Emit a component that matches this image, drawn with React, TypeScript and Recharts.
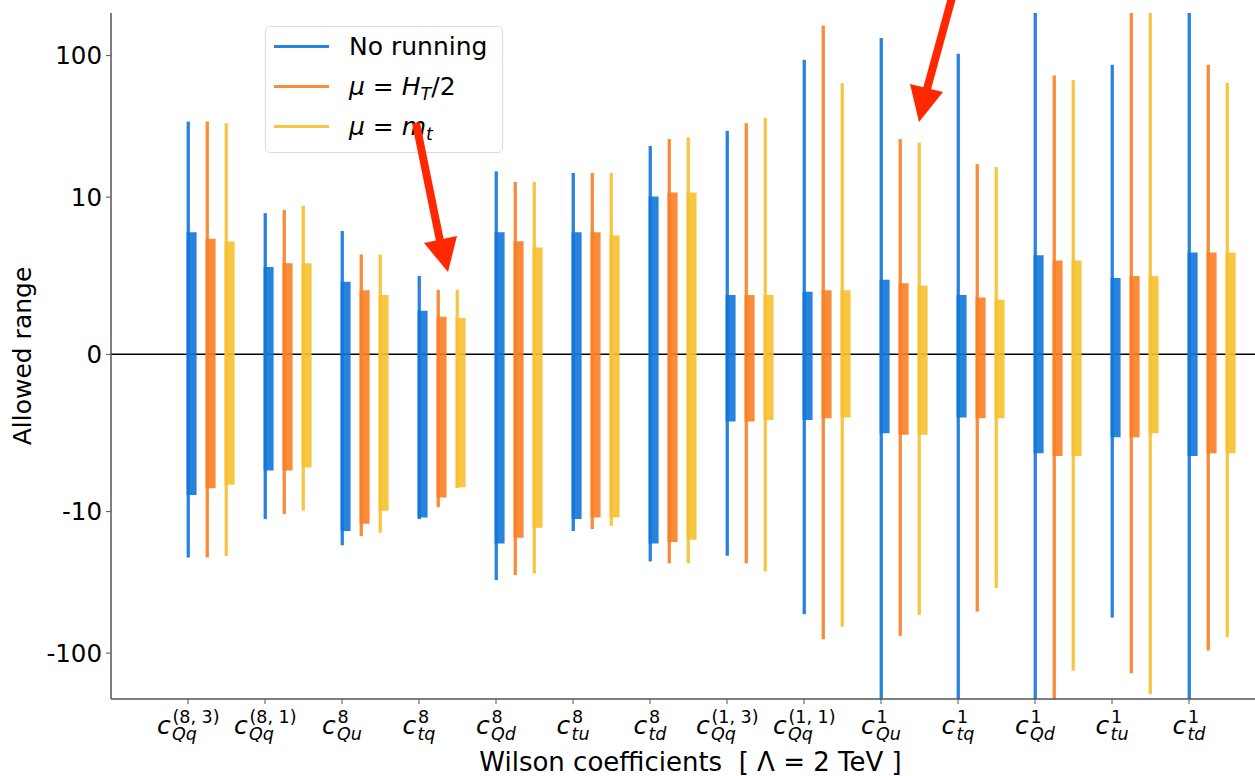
import { ComposedChart, Bar, XAxis, YAxis, CartesianGrid, Legend } from 'recharts';

// tick labels: c_{sub}^{sup}
const coefSub = ['Qq', 'Qq', 'Qu', 'tq', 'Qd', 'tu', 'td', 'Qq', 'Qq', 'Qu', 'tq', 'Qd', 'tu', 'td'];
const coefSup = ['(8, 3)', '(8, 1)', '8', '8', '8', '8', '8', '(1, 3)', '(1, 1)', '1', '1', '1', '1', '1'];

const seriesNames = ['No running', 'μ = H_T/2', 'μ = m_t'];

// [low, high] of the wide (thin line) and narrow (thick bar) allowed ranges
const blueOuter = [
  [-21.1, 34.2], [-11.3, 8.98], [-17.3, 7.84], [-11.3, 4.99], [-30.5, 15.2], [-13.7, 14.8], [-22.5, 23.0],
  [-20.5, 29.4], [-53.1, 93.4], [-260, 133], [-250, 103], [-280, 260], [-56.1, 86.1], [-260, 250],
];
const blueInner = [
  [-8.94, 7.77], [-7.39, 5.55], [-13.7, 4.61], [-11.0, 2.77], [-16.8, 7.77], [-11.3, 7.77], [-16.8, 10.1],
  [-4.27, 3.77], [-4.17, 3.98], [-5.01, 4.74], [-4.02, 3.77], [-6.29, 6.31], [-5.27, 4.85], [-6.46, 6.48],
];
const orangeOuter = [
  [-21.1, 34.2], [-10.4, 9.19], [-14.9, 6.35], [-9.72, 4.1], [-28.1, 12.8], [-13.3, 14.8], [-23.2, 25.7],
  [-23.2, 33.3], [-79.8, 163], [-75.5, 25.7], [-50.9, 17.1], [-250, 72.3], [-139, 250], [-95.9, 86.1],
];
const orangeInner = [
  [-8.51, 7.35], [-7.39, 5.8], [-12.2, 4.08], [-9.11, 2.39], [-15.3, 7.2], [-11.0, 7.77], [-16.4, 10.8],
  [-4.27, 3.77], [-4.06, 4.08], [-5.12, 4.53], [-4.06, 3.61], [-6.46, 5.97], [-5.27, 4.99], [-6.29, 6.48],
];
const yellowOuter = [
  [-20.6, 33.3], [-9.94, 9.45], [-14.1, 6.35], [-8.5, 4.1], [-27.4, 12.8], [-12.6, 14.8], [-23.2, 26.4],
  [-26.5, 36.3], [-65.0, 63.9], [-53.7, 24.3], [-34.8, 16.3], [-133, 67.1], [-195, 250], [-77.2, 64.2],
];
const yellowInner = [
  [-8.3, 7.17], [-7.2, 5.8], [-9.94, 3.77], [-8.45, 2.32], [-13.0, 6.79], [-11.0, 7.56], [-15.8, 10.8],
  [-4.17, 3.77], [-4.02, 4.08], [-5.12, 4.36], [-4.06, 3.47], [-6.46, 5.97], [-5.01, 4.99], [-6.29, 6.48],
];

const yTickValues = [-100, -10, 0, 10, 100];
const yLimits = [-211, 200];

// matplotlib-style symlog, linthresh 10, linscale 1
const LINTHRESH = 10;
const LIN = 1 / 0.9;
const symlog = (v: number) => {
  const a = Math.abs(v);
  const t = a <= LINTHRESH ? (a / LINTHRESH) * LIN : LIN + Math.log10(a / LINTHRESH);
  return Math.sign(v) * t;
};
const unSymlog = (t: number) => {
  const a = Math.abs(t);
  const v = a <= LIN ? (a / LIN) * LINTHRESH : LINTHRESH * Math.pow(10, a - LIN);
  return Math.sign(t) * v;
};
const tr = (r: number[]) => r.map(symlog);

const data = coefSub.map((_, i) => ({
  pos: i + 1,
  blueOuter: tr(blueOuter[i]),
  blueInner: tr(blueInner[i]),
  orangeOuter: tr(orangeOuter[i]),
  orangeInner: tr(orangeInner[i]),
  yellowOuter: tr(yellowOuter[i]),
  yellowInner: tr(yellowInner[i]),
}));

const BLUE = '#2983dd';
const ORANGE = '#f98b3a';
const YELLOW = '#f7c644';
// same colours before 0.9 alpha, so the zero line shows through
const BLUE_A = '#1175d9';
const ORANGE_A = '#f87e24';
const YELLOW_A = '#f6c02f';
const SPINE = '#555';

const FONT = 25;
const SCRIPT = 17.5;
const charW: Record<string, number> = {
  Q: 0.787, q: 0.635, u: 0.634, t: 0.392, d: 0.635, '(': 0.39, ')': 0.39, ',': 0.318, ' ': 0.318,
};
const textWidth = (s: string, size: number) =>
  s.split('').reduce((w, ch) => w + (charW[ch] ?? 0.636), 0) * size;

const ThinBar = (props: any) => {
  let { x, y, height, fill } = props;
  if (height < 0) {
    y += height;
    height = -height;
  }
  return <rect x={x} y={y} width={3.3} height={height} fill={fill} />;
};

const CoefTick = (props: any) => {
  const { x, y, payload } = props;
  const i = Math.round(payload.value) - 1;
  const sub = coefSub[i];
  const sup = coefSup[i];
  if (sub === undefined) return null;
  const total = 15 + Math.max(textWidth(sub, SCRIPT), textWidth(sup, SCRIPT));
  const x0 = x - total / 2;
  const base = y + 28;
  return (
    <text fill="#000" style={{ whiteSpace: 'pre' }}>
      <tspan x={x0} y={base} fontSize={FONT} fontStyle="italic">c</tspan>
      <tspan x={x0 + 15} y={base + 5.5} fontSize={SCRIPT} fontStyle="italic">{sub}</tspan>
      <tspan x={x0 + 15.5} y={base - 11.3} fontSize={SCRIPT}>{sup}</tspan>
    </text>
  );
};

const YTitle = (props: any) => {
  const vb = props.viewBox || { y: 13, height: 686 };
  const cy = vb.y + vb.height / 2;
  return (
    <text x={31.3} y={cy} transform={`rotate(-90, 31.3, ${cy})`} textAnchor="middle" fontSize={FONT} fill="#000">
      Allowed range
    </text>
  );
};

const XTitle = (props: any) => {
  const vb = props.viewBox || { x: 111, y: 699, width: 1155 };
  return (
    <text x={vb.x + vb.width / 2 + 2} y={vb.y + 72} textAnchor="middle" fontSize={26} fill="#000" style={{ whiteSpace: 'pre' }}>
      {'Wilson coefficients  [ Λ = 2 TeV ]'}
    </text>
  );
};

const SeriesLabel = ({ name }: { name: string }) => {
  if (!name.startsWith('μ')) return <>{name}</>;
  const [lhs, rhs] = name.split(' = ');
  const [sym, rest] = rhs.split('_');
  const subChar = rest[0];
  const tail = rest.slice(1);
  return (
    <>
      <tspan fontStyle="italic">{lhs}</tspan>
      <tspan>{' = '}</tspan>
      <tspan fontStyle="italic">{sym}</tspan>
      <tspan fontStyle="italic" fontSize={SCRIPT} dy={5}>{subChar}</tspan>
      {tail ? <tspan dy={-5}>{tail}</tspan> : null}
    </>
  );
};

const renderLegend = (props: any) => {
  const items = (props.payload || []).filter((p: any) => p.type !== 'none');
  return (
    <div
      style={{
        position: 'relative',
        width: 238,
        height: 127,
        boxSizing: 'border-box',
        border: '1px solid #dadada',
        borderRadius: 5,
        background: 'rgba(255,255,255,0.85)',
      }}
    >
      <svg width={238} height={127} style={{ position: 'absolute', left: -1, top: -1, overflow: 'visible' }}>
        {items.map((it: any, k: number) => (
          <g key={k}>
            <line x1={9} x2={64} y1={20.5 + 40 * k} y2={20.5 + 40 * k} stroke={it.color} strokeWidth={3} />
            <text x={84} y={29 + 40 * k} fontSize={FONT} fill="#000" style={{ whiteSpace: 'pre' }}>
              <SeriesLabel name={String(it.value)} />
            </text>
          </g>
        ))}
      </svg>
    </div>
  );
};

const barDomain = [-0.3, 14.7];

export default function App() {
  return (
    <div
      style={{
        position: 'absolute',
        left: 0,
        top: 0,
        width: 1255,
        height: 776,
        overflow: 'hidden',
        background: '#fff',
        fontFamily: '"DejaVu Sans", sans-serif',
      }}
    >
      <ComposedChart width={1275} height={776} data={data} margin={{ top: 13, right: 9, bottom: 0, left: 0 }} barGap={9}>
        <CartesianGrid xAxisId="lab" vertical={false} horizontalValues={[0]} stroke="#000" strokeWidth={1.5} />
        <XAxis
          xAxisId="lab"
          type="number"
          dataKey="pos"
          domain={[0, 15]}
          ticks={coefSub.map((_, i) => i + 1)}
          interval={0}
          height={77}
          tickSize={5}
          tickMargin={2}
          tick={<CoefTick />}
          tickLine={{ stroke: SPINE }}
          axisLine={{ stroke: SPINE, strokeWidth: 1.5 }}
          label={<XTitle />}
        />
        <XAxis
          xAxisId="top"
          orientation="top"
          type="number"
          dataKey="pos"
          domain={[0, 15]}
          height={0}
          tick={false}
          tickLine={false}
          axisLine={{ stroke: SPINE, strokeWidth: 1.5 }}
        />
        <XAxis xAxisId="thin" type="number" dataKey="pos" domain={barDomain} allowDataOverflow hide />
        <XAxis xAxisId="thick" type="number" dataKey="pos" domain={barDomain} allowDataOverflow hide />
        <YAxis
          type="number"
          domain={yLimits.map(symlog)}
          allowDataOverflow
          ticks={yTickValues.map(symlog)}
          interval={0}
          tickFormatter={(t: number) => String(Math.round(unSymlog(t)))}
          width={111}
          tickSize={5}
          tickMargin={4}
          tick={{ fill: '#000', fontSize: 24.5 }}
          tickLine={{ stroke: SPINE }}
          axisLine={{ stroke: SPINE, strokeWidth: 1.5 }}
          label={<YTitle />}
        />
        <Legend
          layout="horizontal"
          verticalAlign="middle"
          align="center"
          content={renderLegend}
          wrapperStyle={{ left: 265, top: 26, width: 238, height: 127 }}
        />
        <Bar xAxisId="thin" dataKey="blueOuter" name={seriesNames[0]} fill={BLUE} barSize={10} shape={ThinBar} isAnimationActive={false} />
        <Bar xAxisId="thin" dataKey="orangeOuter" name={seriesNames[1]} fill={ORANGE} barSize={10} shape={ThinBar} isAnimationActive={false} />
        <Bar xAxisId="thin" dataKey="yellowOuter" name={seriesNames[2]} fill={YELLOW} barSize={10} shape={ThinBar} isAnimationActive={false} />
        <Bar xAxisId="thick" dataKey="blueInner" fill={BLUE_A} fillOpacity={0.9} barSize={10} legendType="none" isAnimationActive={false} />
        <Bar xAxisId="thick" dataKey="orangeInner" fill={ORANGE_A} fillOpacity={0.9} barSize={10} legendType="none" isAnimationActive={false} />
        <Bar xAxisId="thick" dataKey="yellowInner" fill={YELLOW_A} fillOpacity={0.9} barSize={10} legendType="none" isAnimationActive={false} />
      </ComposedChart>
      {/* red annotation arrows */}
      <svg width={1255} height={776} style={{ position: 'absolute', left: 0, top: 0, pointerEvents: 'none' }}>
        <line x1={416} y1={123} x2={440} y2={241} stroke="#ff2800" strokeWidth={8} />
        <polygon points="424,243 457,236 448,272" fill="#ff2800" />
        <line x1={953} y1={-6} x2={927} y2={89} stroke="#ff2800" strokeWidth={8} />
        <polygon points="910,84 943,92 919,122" fill="#ff2800" />
      </svg>
    </div>
  );
}
